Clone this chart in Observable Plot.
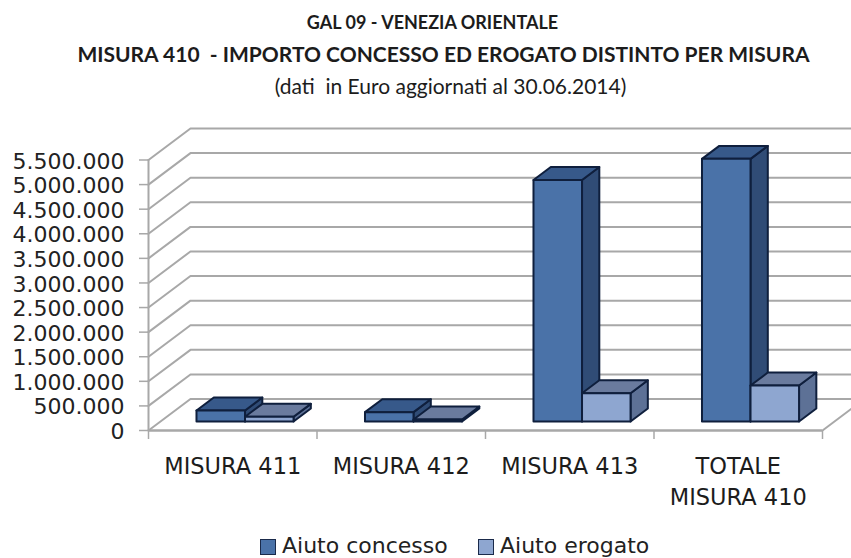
<!DOCTYPE html>
<html>
<head>
<meta charset="utf-8">
<script src="https://cdn.jsdelivr.net/npm/d3@7"></script>
<script src="https://cdn.jsdelivr.net/npm/@observablehq/plot@0.6"></script>
<style>
html,body{margin:0;padding:0;background:#fff;overflow:hidden}
#t{height:100px;box-sizing:border-box;padding-top:6px;text-align:center;font-family:"Lato",sans-serif;color:#1c1c1c}
#t div{line-height:32px;height:32px;white-space:nowrap;position:relative}
#l{height:28px;font-family:"DejaVu Sans",sans-serif;font-size:22px;color:#222;position:relative}
.s{position:absolute;top:9px;width:16px;height:16px;border:1.5px solid #1a2a4a;box-sizing:border-box}
.n{position:absolute;top:5px;line-height:21px;white-space:nowrap}
</style>
</head>
<body>
<div id="t">
<div style="font-size:18px;font-weight:700;left:7px">GAL 09 - VENEZIA ORIENTALE</div>
<div style="font-size:21px;font-weight:700;left:18px">MISURA 410&nbsp; - IMPORTO CONCESSO ED EROGATO DISTINTO PER MISURA</div>
<div style="font-size:21px;left:25px">(dati&nbsp; in Euro aggiornati al 30.06.2014)</div>
</div>
<div id="c"></div>
<div id="l">
<span class="s" style="left:260px;background:#4a72a8"></span><span class="n" style="left:282px">Aiuto concesso</span>
<span class="s" style="left:478px;background:#8ea6d0"></span><span class="n" style="left:500px">Aiuto erogato</span>
</div>
<script>
const categories = ["MISURA 411", "MISURA 412", "MISURA 413", "TOTALE\nMISURA 410"];
const concesso = [224000, 190000, 4910000, 5340000];
const erogato = [95000, 40000, 575000, 732000];
const yTicks = [0, 500000, 1000000, 1500000, 2000000, 2500000, 3000000, 3500000, 4000000, 4500000, 5000000, 5500000];
const xTicks = [0, 1, 2, 3, 4];

// oblique 3D frame, in data units: how far the back wall is shifted from the front plane
const wallX = 0.249, wallY = 640000, rightEnd = 4.172;
// bars occupy this slice of the depth; each bar is this wide in category units
const depthFront = 0.286, depthBack = 0.698, barW = 0.288, firstBar = 0.2136;
const project = (x, v, depth) => ({x: x + depth * wallX, y: v + depth * wallY});

const grid = yTicks.flatMap((v) => [
  {...project(0, v, 0), id: v},
  {...project(0, v, 1), id: v},
  {...project(rightEnd - wallX, v, 1), id: v}
]);
const floorEdge = [project(0, 0, 0), project(4, 0, 0), project(4, 0, 0.69)];

const faces = [];
function bar(id, x0, v, front, top, side) {
  const x1 = x0 + barW;
  const poly = (name, fill, pts) => [...pts, pts[0]].forEach((p) => faces.push({...p, id: id + name, fill}));
  poly("s", side, [project(x1, 0, depthFront), project(x1, 0, depthBack), project(x1, v, depthBack), project(x1, v, depthFront)]);
  poly("t", top, [project(x0, v, depthFront), project(x1, v, depthFront), project(x1, v, depthBack), project(x0, v, depthBack)]);
  poly("f", front, [project(x0, 0, depthFront), project(x1, 0, depthFront), project(x1, v, depthFront), project(x0, v, depthFront)]);
}
categories.forEach((c, i) => {
  bar("c" + i, i + firstBar, concesso[i], "#4a72a8", "#37598a", "#304c76");
  bar("e" + i, i + firstBar + barW, erogato[i], "#8ea6d0", "#6a7b9e", "#5d7196");
});

const it = d3.formatLocale({decimal: ",", thousands: ".", grouping: [3], currency: ["", ""]}).format(",d");
const gray = "#a8a8a8";

const chart = Plot.plot({
  width: 851,
  height: 430,
  marginLeft: 148,
  marginRight: 29,
  marginTop: 59.5,
  marginBottom: 100,
  x: {domain: [0, 4], axis: null},
  y: {domain: [0, 5500000], axis: null},
  color: {type: "identity"},
  style: {background: "#fff", overflow: "visible"},
  marks: [
    Plot.line(grid, {x: "x", y: "y", z: "id", stroke: gray, strokeWidth: 2, curve: "linear"}),
    Plot.line(floorEdge, {x: "x", y: "y", stroke: gray, strokeWidth: 2, curve: "linear"}),
    Plot.ruleX([0], {y1: 0, y2: 5500000, stroke: gray, strokeWidth: 2}),
    Plot.ruleY([0], {stroke: gray, strokeWidth: 2}),
    Plot.axisY({ticks: yTicks, tickFormat: () => "", tickSize: 9, label: null, stroke: gray, strokeWidth: 1.5}),
    Plot.text(yTicks, {x: 0, y: (d) => d, text: it, textAnchor: "end", dx: -24, dy: 1.5, fontSize: 22,
      fontFamily: "DejaVu Sans", fill: "#222"}),
    Plot.axisX({ticks: xTicks, tickFormat: () => "", tickSize: 9, label: null, stroke: gray, strokeWidth: 1.5}),
    Plot.line(faces, {x: "x", y: "y", z: "id", fill: "fill", stroke: "#0f1f3d", strokeWidth: 2,
      strokeLinejoin: "round", curve: "linear"}),
    Plot.text(categories, {x: (d, i) => i + 0.5, y: 0, text: (d) => d, lineAnchor: "top", dy: 21,
      lineHeight: 1.4, fontSize: 22.5, fontFamily: "DejaVu Sans", fill: "#1c1c1c"})
  ]
});
document.getElementById("c").appendChild(chart);
</script>
</body>
</html>
